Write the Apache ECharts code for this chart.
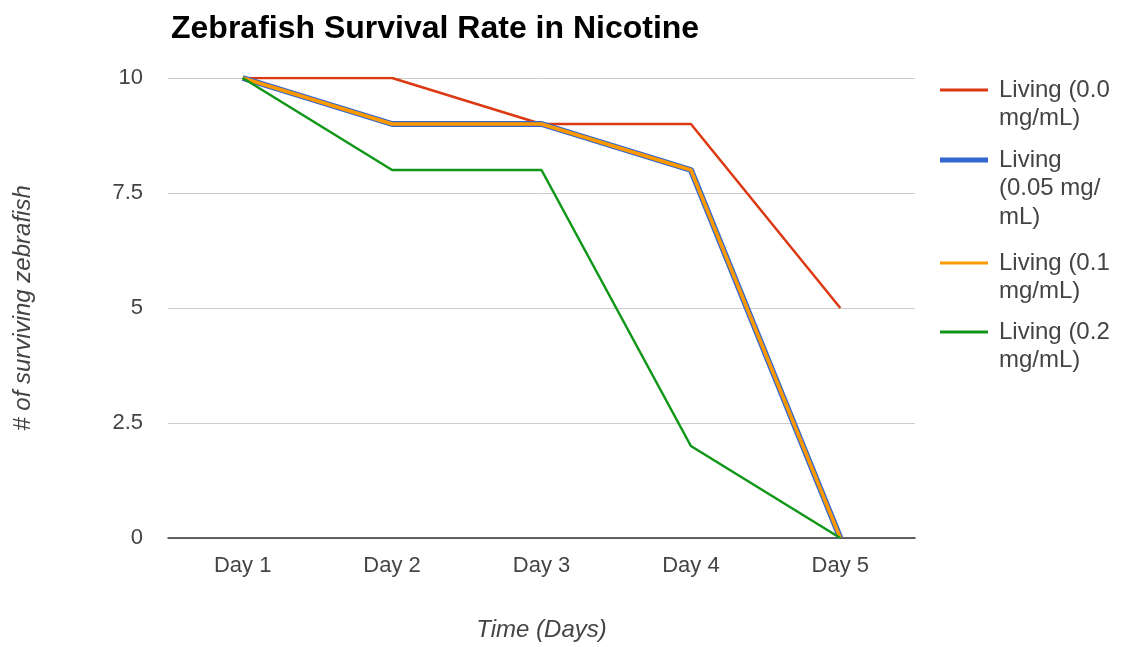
<!DOCTYPE html>
<html>
<head>
<meta charset="utf-8">
<script src="https://cdn.jsdelivr.net/npm/echarts@6/dist/echarts.min.js"></script>
<style>
  html, body { margin: 0; padding: 0; background: #fff; }
  #chart { width: 1122px; height: 647px; }
</style>
</head>
<body>
<div id="chart"></div>
<script>
// Survival counts per day for each nicotine concentration
const days = ['Day 1', 'Day 2', 'Day 3', 'Day 4', 'Day 5'];
const living00 = [10, 10, 9, 9, 5];
const living005 = [10, 9, 9, 8, 0];
const living01 = [10, 9, 9, 8, 0];
const living02 = [10, 8, 8, 2, 0];
const yTicks = [0, 2.5, 5, 7.5, 10];

const seriesNames = ['Living (0.0 mg/mL)', 'Living (0.05 mg/mL)', 'Living (0.1 mg/mL)', 'Living (0.2 mg/mL)'];
// wrapped legend text, one entry per series
const legendLines = [
  ['Living (0.0', 'mg/mL)'],
  ['Living', '(0.05 mg/', 'mL)'],
  ['Living (0.1', 'mg/mL)'],
  ['Living (0.2', 'mg/mL)']
];
const colors = ['#dc3912', '#3366cc', '#ff9900', '#109618'];
const widths = [2.5, 6, 3.5, 2.5];
const seriesData = [living00, living005, living01, living02];

const FONT = '"Liberation Sans", Arial, sans-serif';
const LH = 28.5;
// first-line centre of each legend entry
const legendFirstLineY = [90, 160, 263, 332];

const chart = echarts.init(document.getElementById('chart'), null, { renderer: 'canvas' });

// one legend block per series so the swatch sits beside the first text line
const legends = seriesNames.map(function (name, i) {
  const lines = legendLines[i];
  const pad = new Array(lines.length - 1).fill('');
  const text = pad.concat(lines).join('\n');
  const iconH = i === 1 ? 5 : 3;
  return {
    data: [name],
    orient: 'vertical',
    left: 940,
    top: legendFirstLineY[i] - (lines.length - 0.5) * LH,
    padding: 0,
    icon: 'rect',
    itemWidth: 48,
    itemHeight: iconH,
    selectedMode: false,
    formatter: function () { return text; },
    textStyle: {
      fontFamily: FONT,
      fontSize: 24,
      color: '#444',
      lineHeight: LH,
      padding: [0, 0, 0, 6]
    }
  };
});

chart.setOption({
  animation: false,
  backgroundColor: '#fff',
  title: {
    text: 'Zebrafish Survival Rate in Nicotine',
    left: 166,
    top: 8,
    textStyle: { fontFamily: FONT, fontSize: 32, fontWeight: 'bold', color: '#000' }
  },
  legend: legends,
  grid: { left: 168, right: 207, top: 78, bottom: 109, containLabel: false },
  xAxis: {
    type: 'category',
    data: days,
    boundaryGap: true,
    name: 'Time (Days)',
    nameLocation: 'middle',
    nameGap: 80,
    nameTextStyle: { fontFamily: FONT, fontSize: 24, fontStyle: 'italic', color: '#444' },
    axisLine: { show: true, lineStyle: { color: '#333', width: 1.5 } },
    axisTick: { show: false },
    axisLabel: { fontFamily: FONT, fontSize: 22, color: '#444', margin: 17 }
  },
  yAxis: {
    type: 'value',
    min: 0,
    max: 10,
    interval: 2.5,
    name: '# of surviving zebrafish',
    nameLocation: 'middle',
    nameGap: 133,
    nameTextStyle: { fontFamily: FONT, fontSize: 24, fontStyle: 'italic', color: '#444' },
    axisLine: { show: false },
    axisTick: { show: false },
    axisLabel: {
      fontFamily: FONT, fontSize: 22, color: '#444', margin: 25,
      formatter: function (v) { return yTicks.indexOf(v) >= 0 ? String(v) : ''; }
    },
    splitLine: { show: true, lineStyle: { color: '#cccccc', width: 1 } }
  },
  series: seriesNames.map(function (name, i) {
    return {
      name: name,
      type: 'line',
      data: seriesData[i],
      showSymbol: false,
      symbol: 'none',
      color: colors[i],
      lineStyle: { color: colors[i], width: widths[i] },
      z: 2 + i
    };
  })
});
</script>
</body>
</html>
